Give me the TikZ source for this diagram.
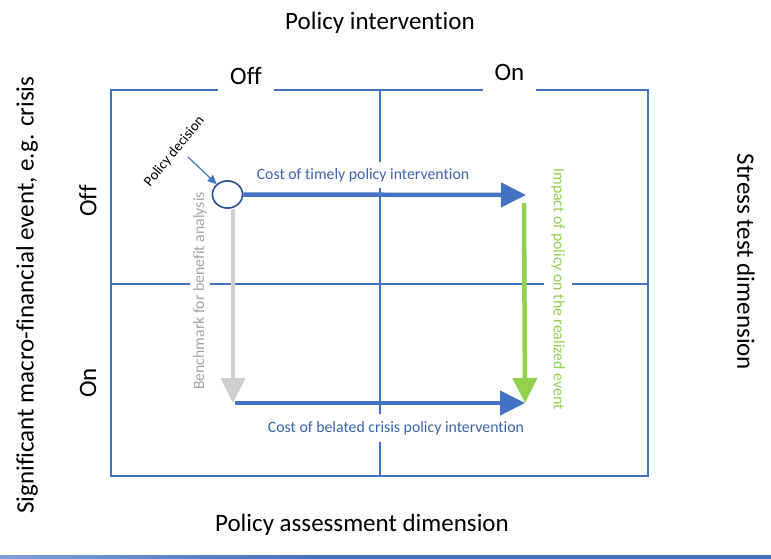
\documentclass[tikz,border=0pt]{standalone}
\usepackage{fontspec}
\setmainfont{Carlito}[Ligatures=NoCommon]
\usetikzlibrary{arrows.meta,shapes.geometric}
\definecolor{gridblue}{HTML}{4472C4}
\definecolor{txtblue}{HTML}{3C63AE}
\definecolor{ellblue}{HTML}{2F5597}
\definecolor{benchgray}{HTML}{D0CECE}
\definecolor{benchtxt}{HTML}{A6A6A6}
\definecolor{impgreen}{HTML}{92D050}
\definecolor{fadeblue}{HTML}{C5D5EE}
\pgfdeclarehorizontalshading{rulefade}{100bp}{color(0bp)=(fadeblue); color(45bp)=(gridblue); color(100bp)=(gridblue)}
\begin{document}
\begin{tikzpicture}[x=1pt,y=-1pt,
  big/.style={font=\fontsize{25}{30}\selectfont, text=black, inner sep=0pt},
  small/.style={font=\fontsize{15.8}{19}\selectfont},
  mask/.style={fill=white},
  gridline/.style={draw=gridblue, line width=1.3pt},
  thickarrow/.style={line width=4.5pt, -{Triangle[length=25pt,width=24pt]}},
]
\useasboundingbox (0,0) rectangle (771,559);
% grid
\draw[gridline] (111,90) rectangle (648,476);
\draw[gridline] (380,90) -- (380,476);
\draw[gridline] (111,284) -- (648,284);
% outer labels
\node[big] (title) at (380,23) {Policy intervention};
\node[big, mask, inner xsep=12pt, inner ysep=8pt] (offtop) at (246,76) {Off};
\node[big, mask, inner xsep=11.5pt, inner ysep=13pt] (ontop) at (509.5,72) {On};
\node[big, rotate=90] (sig) at (27,295) {Significant macro-financial event, e.g. crisis};
\node[big, rotate=90] (offleft) at (88,201) {Off};
\node[big, rotate=90] (onleft) at (88,383) {On};
\node[big, rotate=-90] (stress) at (746,262) {Stress test dimension};
\node[big] (assess) at (362,525) {Policy assessment dimension};
% inner labels (masking the grid)
\node[small, text=txtblue, mask, inner xsep=2pt, inner ysep=6pt] (ct) at (363,175) {Cost of timely policy intervention};
\node[small, text=txtblue, mask, inner xsep=2pt, inner ysep=7pt] (cb) at (396,428) {Cost of belated crisis policy intervention};
\node[small, text=benchtxt, mask, rotate=90, inner xsep=2pt, inner ysep=3.5pt] (bm) at (200,291) {Benchmark for benefit analysis};
\node[small, text=impgreen, mask, rotate=-90, inner xsep=2pt, inner ysep=7pt] (im) at (558,289) {Impact of policy on the realized event};
% coordinates
\coordinate (tr) at (526,195);
\coordinate (gtop) at (524,203);
\coordinate (bl) at (233,403);
\coordinate (br) at (525,403);
\coordinate (pds) at (188,157);
% ellipse node
\node[ellipse, draw=ellblue, line width=1.5pt, fill=white, minimum width=30pt, minimum height=27pt, inner sep=0pt] (e) at (227.5,194.5) {};
% arrows
\draw[thickarrow, benchgray] (e.south -| bl) -- (bl);
\draw[thickarrow, gridblue] (e.east) -- (tr);
\draw[thickarrow, gridblue] ([xshift=2pt]bl) -- (br);
\draw[thickarrow, impgreen] (gtop) -- (br);
% ellipse again on top of the arrow ends
\node[ellipse, draw=ellblue, line width=1.5pt, fill=white, minimum width=30pt, minimum height=27pt, inner sep=0pt] (e2) at (e) {};
% policy decision
\node[font=\fontsize{14.5}{17}\selectfont, rotate=50.6] (pd) at (174.5,151.5) {Policy decision};
\draw[gridblue, line width=1.2pt, -{Triangle[length=9pt,width=8pt]}] (pds) -- (e2);
% bottom rule
\shade[shading=rulefade] (0,555.8) rectangle (771,558.2);
\end{tikzpicture}
\end{document}
